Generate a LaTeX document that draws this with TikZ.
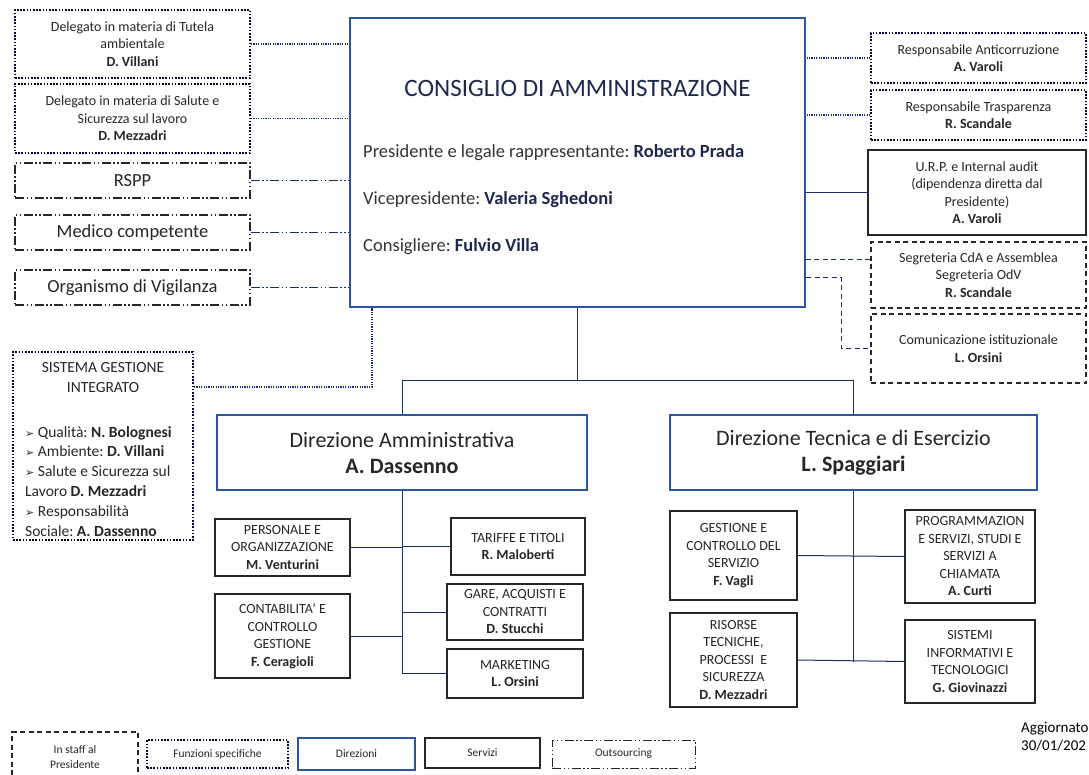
\documentclass[tikz,border=0pt]{standalone}
\usepackage{fontspec}
\setmainfont{Carlito}
\newfontfamily\symfont{DejaVu Sans}
\usetikzlibrary{positioning}
\definecolor{cdablue}{RGB}{45,85,165}
\definecolor{navy}{RGB}{28,40,80}
\definecolor{linkblue}{RGB}{25,45,110}
\newcommand{\freccia}{{\symfont\fontsize{11}{12}\selectfont ➢}}
\frenchspacing
\begin{document}
\begin{tikzpicture}[x=1pt,y=-1pt,
	box/.style={align=center, inner sep=0pt, text=black!85},
	fs/.style={box, draw=black!80!blue, line width=1.8pt, dash pattern=on 1.6pt off 1.6pt},
	staff/.style={box, draw=black!85, line width=1.1pt, dash pattern=on 5pt off 3.5pt},
	outs/.style={box, draw=black!85, line width=1.1pt, dash pattern=on 9pt off 2.5pt on 1.5pt off 2.5pt on 1.5pt off 2.5pt},
	dirbox/.style={box, draw=cdablue, line width=2pt},
	serv/.style={box, draw=black!85, line width=1.4pt},
	small/.style={font=\fontsize{14}{17.5}\selectfont},
	tiny/.style={font=\fontsize{11.5}{15.5}\selectfont},
	lk/.style={draw=linkblue, line width=1pt},
	lkdot/.style={draw=linkblue, line width=1.2pt, dash pattern=on 1.2pt off 1.2pt},
	lkdash/.style={draw=linkblue, line width=1pt, dash pattern=on 5pt off 3.5pt},
	lkout/.style={draw=linkblue, line width=1.1pt, dash pattern=on 9pt off 2.5pt on 1.5pt off 2.5pt on 1.5pt off 2.5pt}]
\useasboundingbox (0,0) rectangle (1089,775);

% Consiglio di amministrazione
\node[dirbox, minimum width=455, minimum height=289] (cda) at (577.5,162.5) {};
\node[text=navy, font=\fontsize{25}{28}\selectfont] (cdatit) at (577.5,88) {CONSIGLIO DI AMMINISTRAZIONE};
\node[anchor=west, inner sep=0, text=black!80, font=\fontsize{18.5}{20}\selectfont] (pres) at (363,153) {Presidente e legale rappresentante: \textcolor{navy}{\textbf{Roberto Prada}}};
\node[anchor=west, inner sep=0, text=black!80, font=\fontsize{18.5}{20}\selectfont] (vice) at (363,200) {Vicepresidente: \textcolor{navy}{\textbf{Valeria Sghedoni}}};
\node[anchor=west, inner sep=0, text=black!80, font=\fontsize{18.5}{20}\selectfont] (cons) at (363,247) {Consigliere: \textcolor{navy}{\textbf{Fulvio Villa}}};

% colonna sinistra
\node[fs, small, minimum width=235, minimum height=68] (tutela) at (132.5,44) {Delegato in materia di Tutela\\ambientale\\\textbf{D. Villani}};
\node[fs, small, minimum width=235, minimum height=69] (salute) at (132.5,118.5) {Delegato in materia di Salute e\\Sicurezza sul lavoro\\\textbf{D. Mezzadri}};
\node[outs, font=\fontsize{18.5}{20}\selectfont, minimum width=235, minimum height=35] (rspp) at (132.5,180.5) {RSPP};
\node[outs, font=\fontsize{18.5}{20}\selectfont, minimum width=235, minimum height=35] (medico) at (132.5,232.5) {Medico competente};
\node[outs, font=\fontsize{18.5}{20}\selectfont, minimum width=235, minimum height=35] (odv) at (132.5,287.5) {Organismo di Vigilanza};

\draw[lkdot] (tutela.east) -- (tutela.east -| cda.west);
\draw[lkdot] (salute.east) -- (salute.east -| cda.west);
\draw[lkout] (rspp.east) -- (rspp.east -| cda.west);
\draw[lkout] (medico.east) -- (medico.east -| cda.west);
\draw[lkout] (odv.east) -- (odv.east -| cda.west);

% colonna destra
\node[fs, small, minimum width=215, minimum height=50] (anticorr) at (978.5,58) {Responsabile Anticorruzione\\\textbf{A. Varoli}};
\node[fs, small, minimum width=215, minimum height=50] (trasp) at (978.5,115) {Responsabile Trasparenza\\\textbf{R. Scandale}};
\node[serv, small, minimum width=218, minimum height=85] (urp) at (977,192.5) {U.R.P. e Internal audit\\(dipendenza diretta dal\\Presidente)\\\textbf{A. Varoli}};
\node[staff, small, minimum width=215, minimum height=66] (segr) at (978.5,275) {Segreteria CdA e Assemblea\\Segreteria OdV\\\textbf{R. Scandale}};
\node[staff, small, minimum width=215, minimum height=69] (com) at (978.5,348.5) {Comunicazione istituzionale\\\textbf{L. Orsini}};

\draw[lkdot] (anticorr.west) -- (anticorr.west -| cda.east);
\draw[lkdot] (trasp.west) -- (trasp.west -| cda.east);
\draw[lk] (urp.west) -- (urp.west -| cda.east);
\draw[lkdash] ([yshift=15pt]segr.west) -- ([yshift=15pt]segr.west -| cda.east);
\coordinate (k1) at (841,278);
\draw[lkdash] (k1 -| cda.east) -- (k1) |- (com.west);

% sistema gestione integrato
\node[fs, minimum width=180, minimum height=188] (sgi) at (103,446) {};
\node[box, anchor=north, font=\fontsize{15.5}{19.8}\selectfont] (sgitit) at (103,362) {SISTEMA GESTIONE\\INTEGRATO};
\node[box, anchor=north west, align=left, font=\fontsize{15.5}{19.8}\selectfont] (sgilist) at (25,426) {\freccia\ Qualità: \textbf{N. Bolognesi}\\\freccia\ Ambiente: \textbf{D. Villani}\\\freccia\ Salute e Sicurezza sul\\Lavoro \textbf{D. Mezzadri}\\\freccia\ Responsabilità\\Sociale: \textbf{A. Dassenno}};
\coordinate (s1) at (372,387);
\draw[lkdot] (sgi.east |- s1) -- (s1) -- (s1 |- cda.south);

% direzioni
\node[dirbox, font=\fontsize{22}{26}\selectfont, minimum width=370, minimum height=75] (da) at (402,452.5) {Direzione Amministrativa\\\textbf{A. Dassenno}};
\node[dirbox, font=\fontsize{22}{26}\selectfont, minimum width=367, minimum height=75] (dt) at (853.5,452.5) {Direzione Tecnica e di Esercizio\\\textbf{L. Spaggiari}};
\coordinate (hb) at (0,380);
\draw[lk] (cda.south) -- (cda.south |- hb);
\draw[lk] (da.north) -- (da.north |- hb) -- (dt.north |- hb) -- (dt.north);

% servizi amministrativi
\node[serv, small, minimum width=135, minimum height=57] (pers) at (282.5,547.5) {PERSONALE E\\ORGANIZZAZIONE\\\textbf{M. Venturini}};
\node[serv, small, minimum width=135, minimum height=84] (contab) at (282.5,636) {CONTABILITA' E\\CONTROLLO\\GESTIONE\\\textbf{F. Ceragioli}};
\node[serv, small, minimum width=134, minimum height=57] (tariffe) at (518,546.5) {TARIFFE E TITOLI\\\textbf{R. Maloberti}};
\node[serv, small, minimum width=136, minimum height=56] (gare) at (515,612) {GARE, ACQUISTI E\\CONTRATTI\\\textbf{D. Stucchi}};
\node[serv, small, minimum width=136, minimum height=49] (mkt) at (515,673.5) {MARKETING\\\textbf{L. Orsini}};
\draw[lk] (da.south) -- (da.south |- mkt.west) -- (mkt.west);
\draw[lk] (pers.east) -- (pers.east -| da.south);
\draw[lk] (contab.east) -- (contab.east -| da.south);
\draw[lk] (tariffe.west) -- (tariffe.west -| da.south);
\draw[lk] (gare.west) -- (gare.west -| da.south);

% servizi tecnici
\node[serv, small, minimum width=127, minimum height=89] (gest) at (733.5,555.5) {GESTIONE E\\CONTROLLO DEL\\SERVIZIO\\\textbf{F. Vagli}};
\node[serv, small, minimum width=130, minimum height=93] (prog) at (970,556.5) {PROGRAMMAZION\\E SERVIZI, STUDI E\\SERVIZI A\\CHIAMATA\\\textbf{A. Curti}};
\node[serv, small, minimum width=127, minimum height=94] (ris) at (733.5,660) {RISORSE\\TECNICHE,\\PROCESSI\ \ E\\SICUREZZA\\\textbf{D. Mezzadri}};
\node[serv, small, minimum width=130, minimum height=83] (sis) at (970,661.5) {SISTEMI\\INFORMATIVI E\\TECNOLOGICI\\\textbf{G. Giovinazzi}};
\draw[lk] (dt.south) -- (dt.south |- sis.west);
\draw[lk] (gest.east) -- (prog.west);
\draw[lk] (ris.east) -- (sis.west);

% legenda
\node[staff, tiny, minimum width=126, minimum height=50] (lgstaff) at (75,757) {In staff al\\Presidente};
\node[fs, tiny, line width=1.4pt, minimum width=141, minimum height=28] (lgfs) at (217.5,754) {Funzioni specifiche};
\node[dirbox, tiny, line width=1.6pt, minimum width=117, minimum height=32] (lgdir) at (356.5,754) {Direzioni};
\node[serv, tiny, line width=1.1pt, minimum width=115, minimum height=30] (lgserv) at (482.5,753) {Servizi};
\node[outs, tiny, line width=0.9pt, minimum width=143, minimum height=28] (lgout) at (623.5,754) {Outsourcing};
\node[anchor=north west, align=left, inner sep=0, font=\fontsize{15}{18}\selectfont] (agg) at (1021,722) {Aggiornato\\30/01/202};
\end{tikzpicture}
\end{document}
